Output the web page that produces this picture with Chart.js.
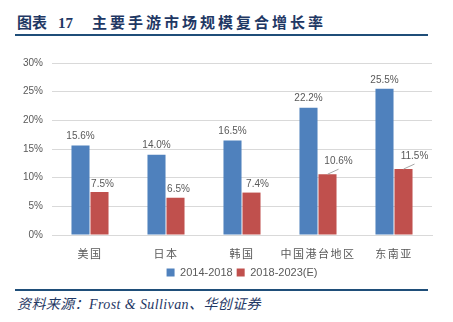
<!DOCTYPE html>
<html>
<head>
<meta charset="utf-8">
<script src="https://cdn.jsdelivr.net/npm/chart.js@4"></script>
<style>
  html, body { margin: 0; padding: 0; background: #fff; }
  body { width: 453px; height: 322px; position: relative; overflow: hidden; }
  #title { position: absolute; left: 17px; top: 11px; font: bold 15px "Liberation Serif", "Noto Sans CJK SC", serif; color: #1F3864; white-space: pre; }
  #title .num { margin-left: 11px; }
  #title .main { margin-left: 19px; letter-spacing: 3px; }
  .rule { position: absolute; left: 15px; width: 413px; height: 2px; background: #1F4E79; }
  #source { position: absolute; left: 17px; top: 293px; font: italic 14px "Liberation Serif", "Noto Sans CJK SC", serif; color: #1F3864; letter-spacing: 0.4px; }
  #wrap { position: absolute; left: 0; top: 40px; width: 453px; height: 248px; }
</style>
</head>
<body>
<div id="title">图表<span class="num">17</span><span class="main">主要手游市场规模复合增长率</span></div>
<div class="rule" style="top:34px"></div>
<div id="wrap"><canvas id="myChart"></canvas></div>
<div class="rule" style="top:289px"></div>
<div id="source">资料来源：Frost &amp; Sullivan、华创证券</div>
<script>
const categories = ['美国', '日本', '韩国', '中国港台地区', '东南亚'];
const seriesNames = ['2014-2018', '2018-2023(E)'];
const cagr2014to2018 = [15.6, 14.0, 16.5, 22.2, 25.5];
const cagr2018to2023 = [7.5, 6.5, 7.4, 10.6, 11.5];
const yTicks = [0, 5, 10, 15, 20, 25, 30];

// label offsets for the red series (two of them have leader lines)
const redLabelShift = [[3, 0], [3, 0], [6, 0], [11, -5], [11, -5]];

const labelPlugin = {
  id: 'barLabels',
  afterDatasetsDraw(chart) {
    const c = chart.ctx;
    c.save();
    c.font = '10px "Liberation Sans", sans-serif';
    c.fillStyle = '#595959';
    c.textAlign = 'center';
    c.textBaseline = 'bottom';
    chart.data.datasets.forEach((ds, di) => {
      chart.getDatasetMeta(di).data.forEach((bar, i) => {
        const txt = ds.data[i].toFixed(1) + '%';
        if (di === 0) {
          c.fillText(txt, bar.x, bar.y - 4);
        } else {
          const [dx, dy] = redLabelShift[i];
          if (dy !== 0) {
            c.strokeStyle = '#A6A6A6';
            c.lineWidth = 1;
            c.beginPath();
            c.moveTo(bar.x, bar.y);
            c.lineTo(bar.x + dx, bar.y + dy);
            c.stroke();
          }
          c.fillText(txt, bar.x + dx, bar.y + dy - 3);
        }
      });
    });
    c.restore();
  }
};

const ctx = document.getElementById('myChart').getContext('2d');
const myChart = new Chart(ctx, {
  type: 'bar',
  data: {
    labels: categories,
    datasets: [{
      label: seriesNames[0],
      data: cagr2014to2018,
      backgroundColor: '#4F81BD'
    }, {
      label: seriesNames[1],
      data: cagr2018to2023,
      backgroundColor: '#C0504D'
    }]
  },
  options: {
    responsive: true,
    maintainAspectRatio: false,
    animation: false,
    layout: { padding: { left: 12, right: 21, top: 23, bottom: 0 } },
    datasets: { bar: { categoryPercentage: 0.5, barPercentage: 0.95 } },
    scales: {
      y: {
        min: 0,
        max: 30,
        afterBuildTicks(scale) { scale.ticks = yTicks.map(v => ({ value: v })); },
        afterFit(scale) { scale.width = 40; },
        border: { display: false },
        grid: { color: '#D9D9D9', drawTicks: false },
        ticks: {
          padding: 9,
          color: '#595959',
          font: { size: 10, family: '"Liberation Sans", sans-serif' },
          callback: v => v + '%'
        }
      },
      x: {
        border: { color: '#D9D9D9' },
        grid: { display: false },
        afterFit(scale) { scale.height = 28; },
        ticks: {
          padding: 4,
          color: '#595959',
          font: { size: 11, family: '"Noto Sans CJK SC", sans-serif' }
        }
      }
    },
    plugins: {
      legend: {
        display: true,
        position: 'bottom',
        fullSize: false,
        labels: {
          boxWidth: 8,
          boxHeight: 8,
          padding: 4,
          color: '#595959',
          font: { size: 11, family: '"Liberation Sans", sans-serif' }
        }
      },
      tooltip: { enabled: false }
    }
  },
  plugins: [labelPlugin]
});

// spaced-out category labels, like the original
const xScale = myChart.scales.x;
const drawXLabels = xScale.drawLabels.bind(xScale);
xScale.drawLabels = function (area) {
  ctx.save();
  ctx.letterSpacing = '1.5px';
  drawXLabels(area);
  ctx.restore();
};
myChart.render();
</script>
</body>
</html>
